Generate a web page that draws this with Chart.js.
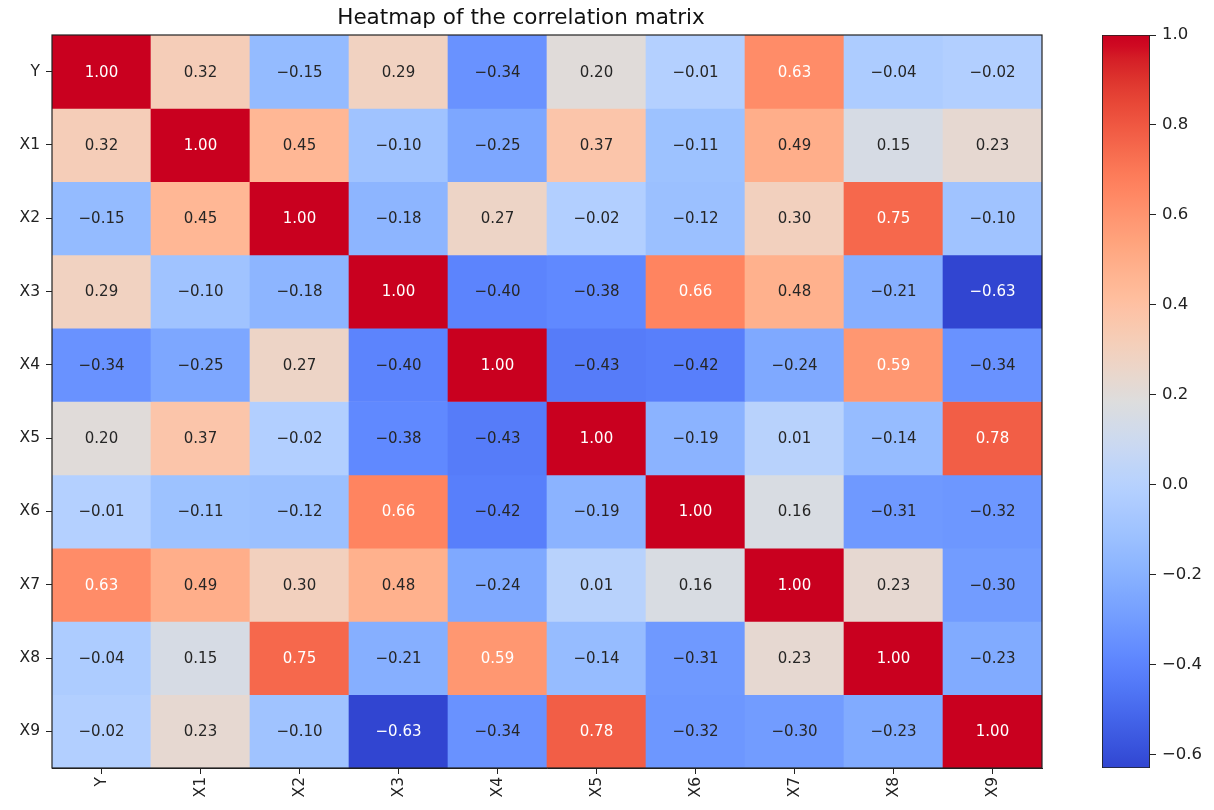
<!DOCTYPE html>
<html><head><meta charset="utf-8">
<script src="https://cdn.jsdelivr.net/npm/chart.js@4.4.1/dist/chart.umd.min.js"></script>
<style>
html,body{margin:0;padding:0;background:#fff;width:1214px;height:810px;overflow:hidden}
#main{position:absolute;left:0;top:0;width:1094px;height:810px}
#cbar{position:absolute;left:1094px;top:0;width:120px;height:810px}
</style></head><body>
<div id="main"><canvas id="c1"></canvas></div>
<div id="cbar"><canvas id="c2"></canvas></div>
<script>
// ---- data ----
const variables = ['Y','X1','X2','X3','X4','X5','X6','X7','X8','X9'];
const rowY  = [ 1.00, 0.32,-0.15, 0.29,-0.34, 0.20,-0.01, 0.63,-0.04,-0.02];
const rowX1 = [ 0.32, 1.00, 0.45,-0.10,-0.25, 0.37,-0.11, 0.49, 0.15, 0.23];
const rowX2 = [-0.15, 0.45, 1.00,-0.18, 0.27,-0.02,-0.12, 0.30, 0.75,-0.10];
const rowX3 = [ 0.29,-0.10,-0.18, 1.00,-0.40,-0.38, 0.66, 0.48,-0.21,-0.63];
const rowX4 = [-0.34,-0.25, 0.27,-0.40, 1.00,-0.43,-0.42,-0.24, 0.59,-0.34];
const rowX5 = [ 0.20, 0.37,-0.02,-0.38,-0.43, 1.00,-0.19, 0.01,-0.14, 0.78];
const rowX6 = [-0.01,-0.11,-0.12, 0.66,-0.42,-0.19, 1.00, 0.16,-0.31,-0.32];
const rowX7 = [ 0.63, 0.49, 0.30, 0.48,-0.24, 0.01, 0.16, 1.00, 0.23,-0.30];
const rowX8 = [-0.04, 0.15, 0.75,-0.21, 0.59,-0.14,-0.31, 0.23, 1.00,-0.23];
const rowX9 = [-0.02, 0.23,-0.10,-0.63,-0.34, 0.78,-0.32,-0.30,-0.23, 1.00];
const matrix = [rowY,rowX1,rowX2,rowX3,rowX4,rowX5,rowX6,rowX7,rowX8,rowX9];
const colorbarTicks = [-0.6,-0.4,-0.2,0.0,0.2,0.4,0.6,0.8,1.0];
const vmin = -0.63, vmax = 1.0;
const chartTitle = 'Heatmap of the correlation matrix';

// ---- coolwarm colormap ----
const cw = [[59,76,192],[68,90,204],[77,104,215],[87,117,225],[98,130,234],[108,142,241],[119,154,247],[130,165,251],[141,176,254],[152,185,255],[163,194,255],[174,201,253],[184,208,249],[194,213,244],[204,217,238],[213,219,230],[221,221,221],[229,216,209],[236,211,197],[241,204,184],[245,196,172],[247,187,159],[247,177,147],[247,166,134],[244,154,123],[241,141,111],[236,127,99],[229,112,88],[222,96,77],[213,80,66],[203,62,56],[192,40,47],[180,4,38]];
function cmap(t){
  t = Math.max(0, Math.min(1, t));
  const p = t*(cw.length-1), i = Math.min(Math.floor(p), cw.length-2), f = p-i;
  const c = [0,1,2].map(k => cw[i][k] + (cw[i+1][k]-cw[i][k])*f);
  const m = (c[0]+c[1]+c[2])/3, K = 1.2;
  const b = c.map(v => Math.round(Math.max(0, Math.min(255, m + (v-m)*K))));
  return `rgb(${b[0]},${b[1]},${b[2]})`;
}
const colorOf = v => cmap((v - vmin)/(vmax - vmin));
const fmt = v => (v < 0 ? '\u2212' : '') + Math.abs(v).toFixed(2);
const FONT = "'DejaVu Sans', sans-serif";

// ---- plugins ----
const annotate = {
  id: 'annotate',
  afterDatasetsDraw(chart){
    const ctx = chart.ctx;
    ctx.save();
    ctx.font = `15px ${FONT}`;
    ctx.textAlign = 'center';
    ctx.textBaseline = 'middle';
    chart.data.datasets.forEach((ds, r) => {
      chart.getDatasetMeta(r).data.forEach((el, c) => {
        const v = matrix[r][c];
        ctx.fillStyle = Math.abs(v) > 0.5 ? '#ffffff' : '#262626';
        ctx.fillText(fmt(v), el.x, (el.y + el.base)/2 + 1);
      });
    });
    const a = chart.chartArea;
    ctx.strokeStyle = '#222';
    ctx.lineWidth = 1.2;
    ctx.strokeRect(a.left, a.top, a.right - a.left, a.bottom - a.top);
    ctx.restore();
  }
};

// ---- heatmap ----
new Chart(document.getElementById('c1'), {
  type: 'bar',
  data: {
    labels: variables,
    datasets: variables.map((name, r) => ({
      label: name,
      data: matrix[r].map(() => [r, r + 1]),
      backgroundColor: ctx => colorOf(matrix[r][ctx.dataIndex]),
      borderWidth: 0,
      barPercentage: 1,
      categoryPercentage: 1,
      grouped: false
    }))
  },
  options: {
    responsive: true,
    maintainAspectRatio: false,
    animation: false,
    layout: { padding: { left: 0, right: 52, top: 0, bottom: 0 } },
    plugins: {
      legend: { display: false },
      tooltip: { enabled: false },
      title: {
        display: true, text: chartTitle, color: '#111',
        font: { family: FONT, size: 21.5, weight: 'normal', lineHeight: 1.2 },
        padding: { top: 6, bottom: 3.2 }
      }
    },
    scales: {
      x: {
        type: 'category',
        offset: true,
        grid: { display: true, drawOnChartArea: false, drawTicks: true, tickLength: 6, color: '#222', offset: false },
        border: { display: true, color: '#222', width: 1 },
        ticks: { color: '#222', font: { family: FONT, size: 15.5 }, maxRotation: 90, minRotation: 90, padding: 3, autoSkip: false },
        afterFit: s => { s.height = 42; }
      },
      y: {
        type: 'linear', min: 0, max: 10, reverse: true,
        grid: { display: true, drawOnChartArea: false, drawTicks: true, tickLength: 6, color: '#222' },
        border: { display: true, color: '#222', width: 1 },
        afterBuildTicks: s => { s.ticks = variables.map((_, i) => ({ value: i + 0.5 })); },
        ticks: { color: '#222', font: { family: FONT, size: 15.5 }, padding: 6,
                 callback: (v, i) => variables[i] },
        afterFit: s => { s.width = 52; }
      }
    }
  },
  plugins: [annotate]
});

// ---- colorbar ----
function cbGradient(ctx){
  const chart = ctx.chart, y = chart.scales.y;
  if (!chart.chartArea || !y) return cmap(0.5);
  const g = chart.ctx.createLinearGradient(0, y.getPixelForValue(vmin), 0, y.getPixelForValue(vmax));
  for (let i = 0; i <= 64; i++) g.addColorStop(i/64, cmap(i/64));
  return g;
}
new Chart(document.getElementById('c2'), {
  type: 'bar',
  data: {
    labels: ['colorbar'],
    datasets: [{
      data: [[vmin, vmax]],
      backgroundColor: cbGradient,
      borderColor: '#222', borderWidth: 1.2, borderSkipped: false,
      barPercentage: 1, categoryPercentage: 1
    }]
  },
  options: {
    responsive: true,
    maintainAspectRatio: false,
    animation: false,
    layout: { padding: { left: 8, right: 0, top: 35, bottom: 42 } },
    plugins: { legend: { display: false }, tooltip: { enabled: false } },
    scales: {
      x: { display: false, offset: true },
      y: {
        type: 'linear', position: 'right', min: vmin, max: vmax,
        grid: { display: true, drawOnChartArea: false, drawTicks: true, tickLength: 6, color: '#222' },
        border: { display: false },
        afterBuildTicks: s => { s.ticks = colorbarTicks.map(v => ({ value: v })); },
        ticks: { color: '#222', font: { family: FONT, size: 16.5 }, padding: 6,
                 callback: v => (v < -1e-9 ? '\u2212' : '') + Math.abs(v).toFixed(1) },
        afterFit: s => { s.width = 64; }
      }
    }
  }
});
</script>
</body></html>
